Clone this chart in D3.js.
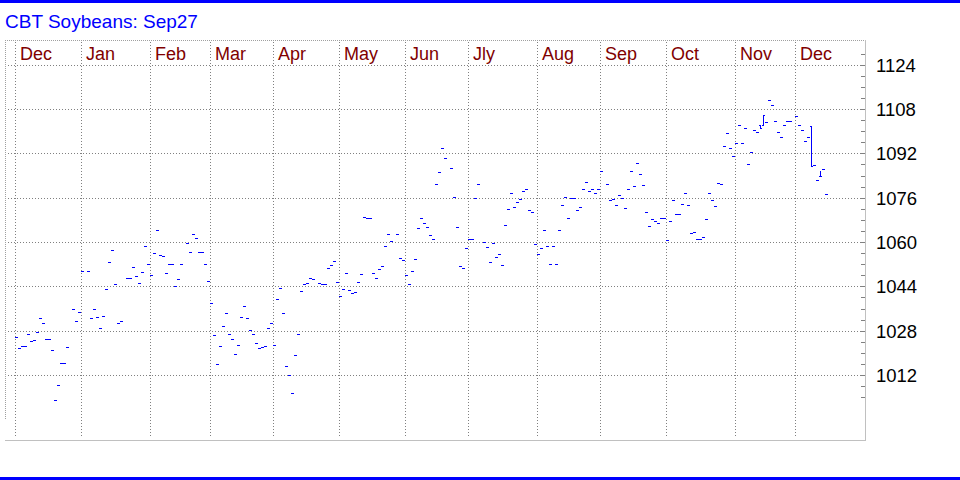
<!DOCTYPE html>
<html><head><meta charset="utf-8">
<script src="https://cdn.jsdelivr.net/npm/d3@7"></script>
<style>html,body{margin:0;padding:0;background:#fff;}svg{display:block;}</style>
</head><body>
<svg id="c" width="960" height="480"></svg>
<script>
// ---- DATA ----
const title = "CBT Soybeans: Sep27";
// month labels and the trading-day slot where each month starts
const monthLabels = ["Dec","Jan","Feb","Mar","Apr","May","Jun","Jly","Aug","Sep","Oct","Nov","Dec"];
const monthStart  = [0, 22, 45, 65, 86, 108, 130, 151, 174, 195, 217, 240, 260];
const totalSlots = 283;
// price axis labels
const priceLabels = [1012, 1028, 1044, 1060, 1076, 1092, 1108, 1124];
// daily settlement (one per weekday slot; null = no trading)
const closes = [
1025.7,1021.7,1022.5,1022.5,1026.8,1024.3,1024.6,1027.5,1032.6,1030.8,
1025.0,1025.0,1021.0,1003.0,1008.4,1016.3,1016.3,1022.1,null,1035.8,
1031.5,1034.7,1049.5,null,1049.5,1032.6,1035.8,1032.9,1029.0,1033.3,
1043.0,1052.8,1057.1,1044.8,1030.8,1031.5,null,1047.0,1047.0,1051.0,
1047.7,1045.2,1049.2,1058.6,1052.1,1048.1,1056.0,1064.3,1055.3,1055.0,
1048.8,1052.1,1052.1,1044.1,1046.6,1052.1,null,1059.6,1056.4,1062.9,
1061.4,1056.4,1056.4,1052.1,1045.9,1038.0,1026.4,1016.0,1022.5,1029.7,
1034.4,1026.8,1025.0,1019.6,1022.8,1032.9,1036.9,1032.6,1028.2,1026.8,
1023.5,1021.7,1022.1,1022.5,1029.0,1030.8,1022.8,1039.4,1043.4,1034.4,
1015.2,1012.0,1005.5,1019.2,1026.8,1042.3,1044.8,1045.2,1047.0,1046.6,
null,1045.2,1044.8,1044.8,1050.6,1051.7,1053.1,1045.6,1040.5,1043.0,
1048.8,1042.7,1041.6,1042.0,1045.6,1048.5,1069.0,1068.7,1068.7,1048.8,
1047.0,1050.3,1051.3,1058.6,1062.9,1060.4,null,1062.9,1054.2,1053.5,
1048.1,1044.8,1049.5,1053.9,1065.1,1068.7,1066.9,1065.4,1062.5,1061.1,
1080.9,1085.3,1093.9,1090.3,null,1086.7,1076.2,1065.4,1051.3,1050.6,
1057.8,1061.1,1061.1,1075.9,1080.9,null,1060.0,1058.2,1052.8,1059.6,
1054.6,1055.7,1051.7,1066.1,1071.9,1077.7,1072.6,1074.4,1075.5,1078.4,
1079.1,1071.6,1070.8,1059.3,1055.7,1057.8,1064.3,1058.6,1052.1,1058.6,
1052.1,1064.3,1073.4,1076.2,1068.7,1075.9,1075.9,1071.6,1072.6,1079.1,
1081.7,1078.4,1079.1,1077.7,1079.1,1085.6,null,1080.9,1075.2,1075.5,
1073.4,1077.0,1075.9,1072.3,1079.1,1085.6,1080.2,1088.5,1084.5,1080.6,
1070.8,1065.8,1068.3,1067.6,1066.9,1068.7,1068.7,1060.7,1067.6,1075.2,
1070.1,1070.1,1073.7,1077.7,1073.4,1063.2,1063.6,1061.1,1061.1,1061.8,
1068.3,1077.7,1075.2,1073.0,1081.3,1080.9,1094.6,1099.3,1093.9,1091.0,
1095.7,1102.2,1095.7,1101.1,1088.2,1092.5,1100.4,1099.7,1101.1,1105.8,
1103.3,1111.3,1109.4,1103.7,1099.7,1097.9,1102.2,1103.7,1103.7,null,
1105.6,1102.2,1100.4,1096.5,1097.9,1087.5,1087.8,1082.5,1083.9,1086.4,
1077.3
];
// days that traded in a range (open / high / low); all others open=high=low=close
const rangeSlots = [248, 249, 265, 268];
const rangeOpens = [1102.3, 1102.2, 1101.7, 1083.9];
const rangeHighs = [1102.3, 1105.8, 1101.7, 1085.8];
const rangeLows  = [1101.1, 1102.2, 1087.5, 1083.9];

// ---- CHART ----
const svg = d3.select("#c");
const W = 960, H = 480;
const plotL = 5, plotR = 865, plotT = 40, plotB = 440;
const x = d3.scaleLinear().domain([0, totalSlots]).range([16, 16 + 3 * totalSlots]);
const y = d3.scaleLinear().domain([1012, 1108]).range([375.5, 109.5]);
const row = v => Math.floor(y(v));

svg.append("rect").attr("x",0).attr("y",0).attr("width",W).attr("height",H).attr("fill","#fff");
// blue rules top and bottom
svg.append("rect").attr("x",0).attr("y",0).attr("width",W).attr("height",3).attr("fill","#0000ff");
svg.append("rect").attr("x",0).attr("y",477).attr("width",W).attr("height",3).attr("fill","#0000ff");

svg.append("text").attr("x",5).attr("y",28).text(title)
  .attr("font-family","Arial, 'Liberation Sans', sans-serif").attr("font-size",19).attr("fill","#0000ff");

const g = svg.append("g").attr("shape-rendering","crispEdges");
// frame: top dotted, left dotted, right & bottom solid
g.append("line").attr("x1",plotL).attr("x2",plotR).attr("y1",plotT+0.5).attr("y2",plotT+0.5)
  .attr("stroke","#a0a0a0").attr("stroke-dasharray","1,1");
g.append("line").attr("x1",plotL+0.5).attr("x2",plotL+0.5).attr("y1",plotT).attr("y2",420)
  .attr("stroke","#a0a0a0").attr("stroke-dasharray","1,1");
g.append("line").attr("x1",plotL).attr("x2",plotR+1).attr("y1",plotB+0.5).attr("y2",plotB+0.5).attr("stroke","#c0c0c0");
g.append("line").attr("x1",plotR+0.5).attr("x2",plotR+0.5).attr("y1",plotT).attr("y2",plotB+1).attr("stroke","#c0c0c0");

// horizontal gridlines
g.selectAll(".hg").data(priceLabels).join("line")
  .attr("x1",8).attr("x2",plotR-2).attr("y1",d=>row(d)+0.5).attr("y2",d=>row(d)+0.5)
  .attr("stroke","#808080").attr("stroke-dasharray","1,2");
// vertical gridlines at month starts
g.selectAll(".vg").data(monthStart).join("line")
  .attr("x1",d=>x(d)-1+0.5).attr("x2",d=>x(d)-1+0.5).attr("y1",plotT+2).attr("y2",plotB-3)
  .attr("stroke","#808080").attr("stroke-dasharray","1,2");

// minor ticks every 4 on right axis
const minorTicks = d3.range(1004, 1129, 4);
g.selectAll(".mt").data(minorTicks).join("line")
  .attr("x1",plotR-4).attr("x2",plotR).attr("y1",d=>row(d)+0.5).attr("y2",d=>row(d)+0.5)
  .attr("stroke","#808080");

// month labels
svg.selectAll(".ml").data(monthLabels).join("text")
  .attr("x",(d,i)=>x(monthStart[i])+4).attr("y",60).text(d=>d)
  .attr("font-family","Arial, 'Liberation Sans', sans-serif").attr("font-size",18).attr("fill","#800000");

// price labels
svg.selectAll(".pl").data(priceLabels).join("text")
  .attr("x",876).attr("y",d=>y(d)).attr("dy","0.35em").text(d=>d)
  .attr("font-family","Arial, 'Liberation Sans', sans-serif").attr("font-size",18.5).attr("fill","#000");

// OHLC bars
const bars = closes.map((c,i)=>{
  if (c === null) return null;
  const k = rangeSlots.indexOf(i);
  return {i, o: k>=0?rangeOpens[k]:c, h: k>=0?rangeHighs[k]:c, l: k>=0?rangeLows[k]:c, c};
}).filter(d=>d);
const bg = g.append("g").attr("fill","#0000ff");
bars.forEach(d=>{
  const cx = Math.round(x(d.i));
  bg.append("rect").attr("x",cx).attr("y",row(d.h)).attr("width",1).attr("height",row(d.l)-row(d.h)+1);
  bg.append("rect").attr("x",cx-1).attr("y",row(d.o)).attr("width",1).attr("height",1);
  bg.append("rect").attr("x",cx+1).attr("y",row(d.c)).attr("width",1).attr("height",1);
});
</script>
</body></html>
